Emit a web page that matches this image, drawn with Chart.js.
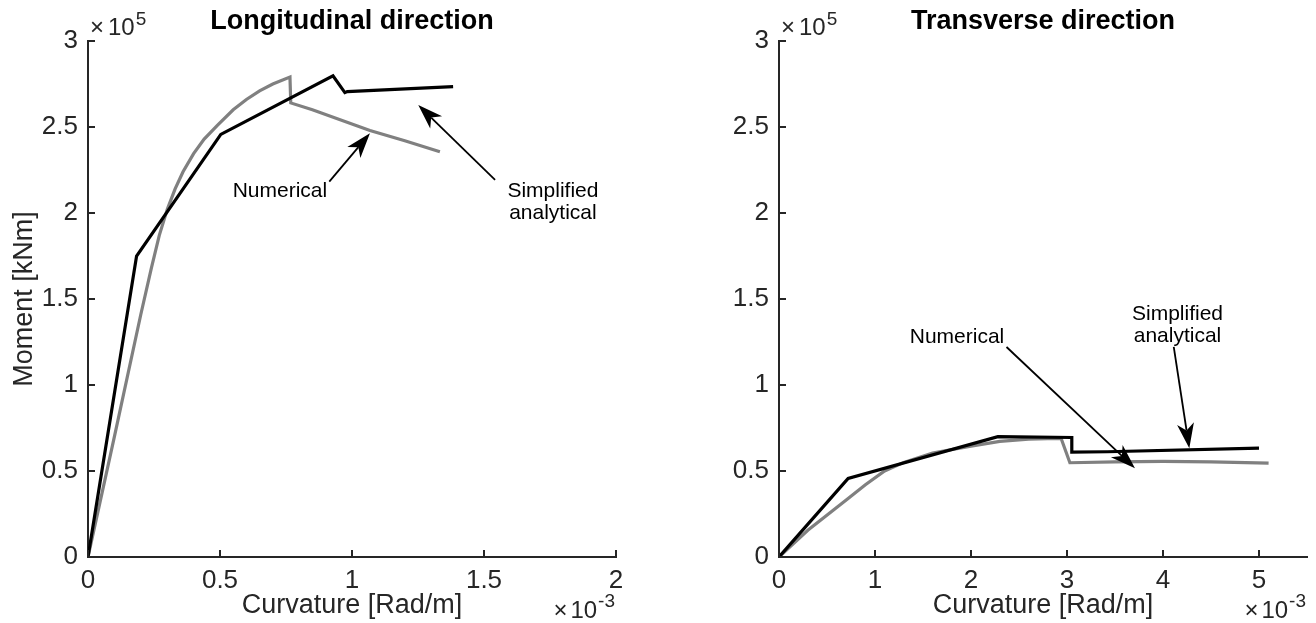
<!DOCTYPE html>
<html>
<head>
<title>Moment-curvature</title>
<style>
    body{margin:0;background:#fff;}
    .row{display:flex;}
    canvas{display:block;}
</style>
</head>
<body>
<div class="row">
    <canvas id="longitudinal" width="658" height="623"></canvas>
    <canvas id="transverse" width="658" height="623"></canvas>
</div>

<script src="https://cdn.jsdelivr.net/npm/chart.js@4.4.1/dist/chart.umd.min.js"></script>
<script>
    // curvature in 1e-3 Rad/m, moment in 1e5 kNm (as on the axes)
    const longSimplifiedX = [0, 0.184, 0.503, 0.928, 0.973, 0.982, 1.383];
    const longSimplifiedM = [0, 1.75, 2.457, 2.797, 2.70, 2.706, 2.735];
    const longNumericalX = [0, 0.1, 0.2, 0.24, 0.27, 0.30, 0.33, 0.36, 0.40, 0.44, 0.49, 0.55, 0.60, 0.65, 0.70, 0.765, 0.768, 0.85, 1.068, 1.2, 1.333];
    const longNumericalM = [0, 0.70, 1.41, 1.68, 1.87, 2.02, 2.14, 2.24, 2.345, 2.43, 2.51, 2.60, 2.66, 2.71, 2.75, 2.79, 2.64, 2.60, 2.48, 2.42, 2.356];

    const transSimplifiedX = [0, 0.72, 2.28, 3.05, 3.05, 3.42, 5.0];
    const transSimplifiedM = [0, 0.457, 0.70, 0.695, 0.61, 0.612, 0.633];
    const transNumericalX = [0, 0.3, 0.72, 0.9, 1.1, 1.3, 1.6, 2.0, 2.3, 2.6, 2.9, 2.94, 3.03, 3.5, 4.0, 4.5, 5.1];
    const transNumericalM = [0, 0.155, 0.34, 0.42, 0.50, 0.55, 0.605, 0.645, 0.672, 0.685, 0.69, 0.688, 0.548, 0.553, 0.556, 0.553, 0.546];

    const momentTicks = [0, 0.5, 1, 1.5, 2, 2.5, 3];

    // text arrows, anchored in data units
    const longNotes = {
        labels: [{text: ['Numerical'], x: 0.727, y: 2.091},
                 {text: ['Simplified', 'analytical'], x: 1.761, y: 2.091}],
        arrows: [{from: [0.914, 2.182], to: [1.068, 2.463]},
                 {from: [1.542, 2.192], to: [1.251, 2.628]}]
    };
    const transNotes = {
        labels: [{text: ['Numerical'], x: 1.854, y: 1.244},
                 {text: ['Simplified', 'analytical'], x: 4.151, y: 1.378}],
        arrows: [{from: [2.37, 1.221], to: [3.708, 0.516]},
                 {from: [4.112, 1.221], to: [4.274, 0.632]}]
    };

    const FONT = "'Liberation Sans', Arial, Helvetica, sans-serif";
    const AXIS = '#262626';

    function points(xs, ys) {
        return xs.map((x, i) => ({x: x, y: ys[i]}));
    }

    const matlabLook = {
        id: 'matlabLook',
        afterDraw(chart, args, opts) {
            const ctx = chart.ctx;
            const a = chart.chartArea;
            const xs = chart.scales.x, ys = chart.scales.y;
            ctx.save();

            // inward tick marks
            ctx.strokeStyle = AXIS;
            ctx.lineWidth = 2;
            ctx.beginPath();
            xs.ticks.forEach(t => {
                const px = xs.getPixelForValue(t.value);
                ctx.moveTo(px, a.bottom);
                ctx.lineTo(px, a.bottom - 7);
            });
            ys.ticks.forEach(t => {
                const py = ys.getPixelForValue(t.value);
                ctx.moveTo(a.left, py);
                ctx.lineTo(a.left + 7, py);
            });
            ctx.stroke();

            // exponent labels
            ctx.fillStyle = AXIS;
            ctx.textBaseline = 'alphabetic';
            ctx.textAlign = 'left';
            ctx.font = '24px ' + FONT;
            let x0 = a.left + 2;
            ctx.fillText('\u00d7', x0, a.top - 6);
            x0 += ctx.measureText('\u00d7').width + 4;
            ctx.fillText('10', x0, a.top - 6);
            x0 += ctx.measureText('10').width + 1;
            ctx.font = '19px ' + FONT;
            ctx.fillText('5', x0, a.top - 16);

            ctx.textAlign = 'right';
            let x1 = a.right - 1;
            ctx.fillText('-3', x1, a.bottom + 50);
            x1 -= ctx.measureText('-3').width + 1;
            ctx.font = '24px ' + FONT;
            ctx.fillText('10', x1, a.bottom + 61);
            x1 -= ctx.measureText('10').width + 3;
            ctx.fillText('\u00d7', x1, a.bottom + 61);

            // annotations
            const notes = opts.notes;
            ctx.fillStyle = '#000';
            ctx.textAlign = 'center';
            ctx.font = '21px ' + FONT;
            notes.labels.forEach(l => {
                const px = xs.getPixelForValue(l.x), py = ys.getPixelForValue(l.y);
                l.text.forEach((s, i) => ctx.fillText(s, px, py + i * 22));
            });
            ctx.strokeStyle = '#000';
            ctx.lineWidth = 1.8;
            notes.arrows.forEach(ar => {
                const sx = xs.getPixelForValue(ar.from[0]), sy = ys.getPixelForValue(ar.from[1]);
                const tx = xs.getPixelForValue(ar.to[0]), ty = ys.getPixelForValue(ar.to[1]);
                const len = Math.hypot(tx - sx, ty - sy);
                const ux = (tx - sx) / len, uy = (ty - sy) / len;
                const nx = -uy, ny = ux;
                const L = 25, W = 8.5, back = 7;
                ctx.beginPath();
                ctx.moveTo(sx, sy);
                ctx.lineTo(tx - ux * (L - back), ty - uy * (L - back));
                ctx.stroke();
                ctx.beginPath();
                ctx.moveTo(tx, ty);
                ctx.lineTo(tx - ux * L + nx * W, ty - uy * L + ny * W);
                ctx.lineTo(tx - ux * (L - back), ty - uy * (L - back));
                ctx.lineTo(tx - ux * L - nx * W, ty - uy * L - ny * W);
                ctx.closePath();
                ctx.fill();
            });
            ctx.restore();
        }
    };

    function makeChart(id, title, xMax, xStep, simpX, simpM, numX, numM, notes, yTitle, padLeft, padRight) {
        return new Chart(id, {
            type: 'scatter',
            data: {
                datasets: [{
                    data: points(simpX, simpM),
                    borderColor: '#000000',
                    borderWidth: 3.2,
                    showLine: true,
                    pointRadius: 0,
                    fill: false
                }, {
                    data: points(numX, numM),
                    borderColor: '#808080',
                    borderWidth: 3.2,
                    showLine: true,
                    pointRadius: 0,
                    fill: false
                }]
            },
            options: {
                responsive: false,
                animation: false,
                events: [],
                borderJoinStyle: 'miter',
                layout: {padding: {left: padLeft, right: padRight, top: 0, bottom: 0}},
                plugins: {
                    legend: {display: false},
                    tooltip: {enabled: false},
                    title: {
                        display: true,
                        text: title,
                        fullSize: false,
                        color: '#000',
                        font: {family: FONT, size: 27, weight: 'bold'},
                        padding: {top: 5, bottom: 3.6}
                    },
                    matlabLook: {notes: notes}
                },
                scales: {
                    x: {
                        type: 'linear',
                        min: 0,
                        max: xMax,
                        afterFit: s => { s.height = 66; },
                        ticks: {stepSize: xStep, includeBounds: false, color: AXIS, padding: 8,
                                font: {family: FONT, size: 26}, callback: v => String(v)},
                        grid: {display: false, drawTicks: false},
                        border: {display: true, color: AXIS, width: 2},
                        title: {display: true, text: 'Curvature [Rad/m]', color: AXIS,
                                font: {family: FONT, size: 27}, padding: {top: 0, bottom: 1}}
                    },
                    y: {
                        type: 'linear',
                        min: 0,
                        max: 3,
                        afterFit: s => { s.width = 88; },
                        afterBuildTicks: s => { s.ticks = momentTicks.map(v => ({value: v})); },
                        ticks: {color: AXIS, padding: 10, font: {family: FONT, size: 26},
                                callback: v => String(v)},
                        grid: {display: false, drawTicks: false},
                        border: {display: true, color: AXIS, width: 2},
                        title: {display: yTitle, text: 'Moment [kNm]', color: AXIS,
                                font: {family: FONT, size: 27}, padding: {top: 8, bottom: 0}}
                    }
                }
            },
            plugins: [matlabLook]
        });
    }

    makeChart('longitudinal', 'Longitudinal direction', 2, 0.5,
        longSimplifiedX, longSimplifiedM, longNumericalX, longNumericalM, longNotes, true, 0, 42);
    makeChart('transverse', 'Transverse direction', 5.5, 1,
        transSimplifiedX, transSimplifiedM, transNumericalX, transNumericalM, transNotes, false, 33, 9);
</script>
</body>
</html>
